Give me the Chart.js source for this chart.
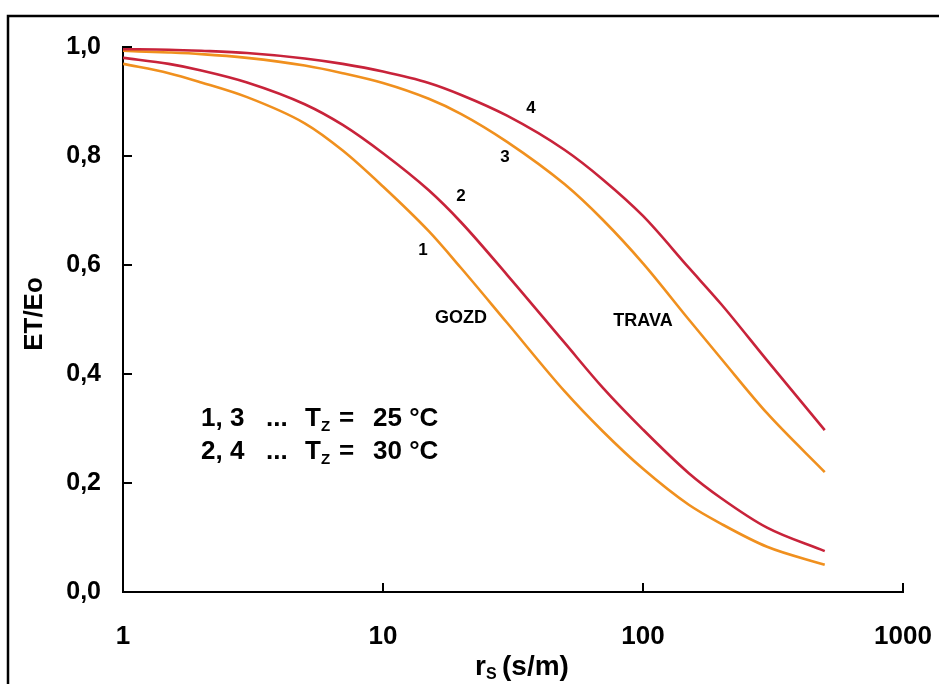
<!DOCTYPE html>
<html>
<head>
<meta charset="utf-8">
<script src="https://cdn.jsdelivr.net/npm/chart.js@4.4.1/dist/chart.umd.min.js"></script>
<style>
  html, body { margin: 0; padding: 0; background: #ffffff; }
  #wrap { width: 939px; height: 684px; position: relative; }
  canvas { display: block; }
</style>
</head>
<body>
<div id="wrap"><canvas id="c" width="939" height="684"></canvas></div>
<script>
// ---- data ----
const rsValues   = [1, 1.5, 2, 3, 5, 7, 10, 15, 20, 30, 50, 70, 100, 150, 200, 300, 500];
// 1: GOZD, Tz = 25 °C
const curve1 = [0.969, 0.952, 0.935, 0.908, 0.860, 0.810, 0.744, 0.662, 0.594, 0.494, 0.368, 0.295, 0.226, 0.160, 0.125, 0.083, 0.050];
// 2: GOZD, Tz = 30 °C
const curve2 = [0.980, 0.969, 0.957, 0.935, 0.895, 0.857, 0.805, 0.737, 0.678, 0.582, 0.457, 0.375, 0.298, 0.218, 0.172, 0.118, 0.075];
// 3: TRAVA, Tz = 25 °C
const curve3 = [0.993, 0.990, 0.987, 0.980, 0.966, 0.952, 0.934, 0.905, 0.877, 0.826, 0.748, 0.683, 0.603, 0.500, 0.428, 0.328, 0.220];
// 4: TRAVA, Tz = 30 °C
const curve4 = [0.996, 0.995, 0.993, 0.989, 0.979, 0.969, 0.955, 0.934, 0.912, 0.874, 0.811, 0.757, 0.690, 0.595, 0.528, 0.425, 0.297];
const xTickValues = [1, 10, 100, 1000];
const xTickLabels = ['1', '10', '100', '1000'];
const yTickValues = [0, 0.2, 0.4, 0.6, 0.8, 1.0];
const yTickLabels = ['0,0', '0,2', '0,4', '0,6', '0,8', '1,0'];

const ORANGE = '#F0901E';
const RED = '#C8233A';
const FONT = '"Liberation Sans", Arial, Helvetica, sans-serif';

function pts(arr) { return rsValues.map((x, i) => ({ x: x, y: arr[i] })); }

const decorPlugin = {
  id: 'decor',
  beforeDraw(chart) {
    const ctx = chart.ctx;
    ctx.save();
    ctx.fillStyle = '#ffffff';
    ctx.fillRect(0, 0, chart.width, chart.height);
    // outer frame (left and top edges)
    ctx.strokeStyle = '#000';
    ctx.lineWidth = 2.5;
    ctx.beginPath();
    ctx.moveTo(8, chart.height);
    ctx.lineTo(8, 16);
    ctx.lineTo(chart.width, 16);
    ctx.stroke();
    ctx.restore();
  },
  afterDraw(chart) {
    const ctx = chart.ctx;
    const xs = chart.scales.x, ys = chart.scales.y;
    ctx.save();
    // inward tick marks
    ctx.strokeStyle = '#000';
    ctx.lineWidth = 2;
    ctx.beginPath();
    yTickValues.forEach(v => {
      if (v === 0) return;
      const py = Math.round(ys.getPixelForValue(v));
      ctx.moveTo(xs.left, py);
      ctx.lineTo(xs.left + 9, py);
    });
    xTickValues.forEach(v => {
      if (v === 1) return;
      const px = Math.round(xs.getPixelForValue(v));
      ctx.moveTo(px, ys.bottom);
      ctx.lineTo(px, ys.bottom - 9);
    });
    ctx.stroke();

    ctx.fillStyle = '#000';
    ctx.textBaseline = 'middle';
    ctx.textAlign = 'center';
    // curve numbers
    ctx.font = 'bold 17px ' + FONT;
    ctx.fillText('4', 531, 108);
    ctx.fillText('3', 505, 157);
    ctx.fillText('2', 461, 196);
    ctx.fillText('1', 423, 250);
    ctx.font = 'bold 18px ' + FONT;
    ctx.fillText('GOZD', 461, 318);
    ctx.fillText('TRAVA', 643, 321);

    // temperature note
    ctx.textAlign = 'left';
    ctx.textBaseline = 'alphabetic';
    const lines = [['1, 3', '25 °C', 426], ['2, 4', '30 °C', 459]];
    lines.forEach(l => {
      const base = l[2];
      ctx.font = 'bold 26px ' + FONT;
      ctx.fillText(l[0], 201, base);
      ctx.fillText('...', 266, base);
      ctx.fillText('T', 305, base);
      ctx.fillText('=', 339, base);
      ctx.fillText(l[1], 373, base);
      ctx.font = 'bold 15px ' + FONT;
      ctx.fillText('Z', 321, base + 5);
    });

    // x axis title
    ctx.font = 'bold 28px ' + FONT;
    ctx.fillText('r', 475, 675);
    ctx.fillText('(s/m)', 502, 675);
    ctx.font = 'bold 16px ' + FONT;
    ctx.fillText('S', 486, 679);

    // y axis title
    ctx.translate(42, 314);
    ctx.rotate(-Math.PI / 2);
    ctx.textAlign = 'center';
    ctx.textBaseline = 'alphabetic';
    ctx.font = 'bold 26px ' + FONT;
    ctx.fillText('ET/Eo', 0, 0);
    ctx.restore();
  }
};

new Chart(document.getElementById('c'), {
  type: 'line',
  data: {
    datasets: [
      { label: '4', data: pts(curve4), borderColor: RED, borderWidth: 2.6 },
      { label: '2', data: pts(curve2), borderColor: RED, borderWidth: 2.6 },
      { label: '3', data: pts(curve3), borderColor: ORANGE, borderWidth: 2.6 },
      { label: '1', data: pts(curve1), borderColor: ORANGE, borderWidth: 2.6 }
    ]
  },
  options: {
    responsive: false,
    animation: false,
    devicePixelRatio: 1,
    elements: {
      point: { radius: 0 },
      line: { cubicInterpolationMode: 'monotone', fill: false }
    },
    layout: { padding: { left: 0, top: 47, right: 36, bottom: 0 } },
    plugins: { legend: { display: false }, tooltip: { enabled: false } },
    scales: {
      x: {
        type: 'logarithmic',
        min: 1, max: 1000,
        afterBuildTicks(scale) { scale.ticks = xTickValues.map(v => ({ value: v })); },
        afterFit(scale) { scale.height = 92; scale.paddingLeft = 0; scale.paddingRight = 0; },
        grid: { display: false, drawTicks: false },
        border: { display: true, color: '#000', width: 2 },
        ticks: {
          padding: 29,
          autoSkip: false,
          maxRotation: 0,
          color: '#000',
          font: { family: FONT, size: 26, weight: 'bold' },
          callback(value) { const i = xTickValues.indexOf(value); return i >= 0 ? xTickLabels[i] : ''; }
        }
      },
      y: {
        min: 0, max: 1,
        afterBuildTicks(scale) { scale.ticks = yTickValues.map(v => ({ value: v })); },
        afterFit(scale) { scale.width = 123; scale.paddingTop = 0; scale.paddingBottom = 0; },
        grid: { display: false, drawTicks: false },
        border: { display: true, color: '#000', width: 2 },
        ticks: {
          padding: 22,
          color: '#000',
          font: { family: FONT, size: 25, weight: 'bold' },
          callback(value) {
            const i = yTickValues.findIndex(v => Math.abs(v - value) < 1e-9);
            return i >= 0 ? yTickLabels[i] : '';
          }
        }
      }
    }
  },
  plugins: [decorPlugin]
});
</script>
</body>
</html>
